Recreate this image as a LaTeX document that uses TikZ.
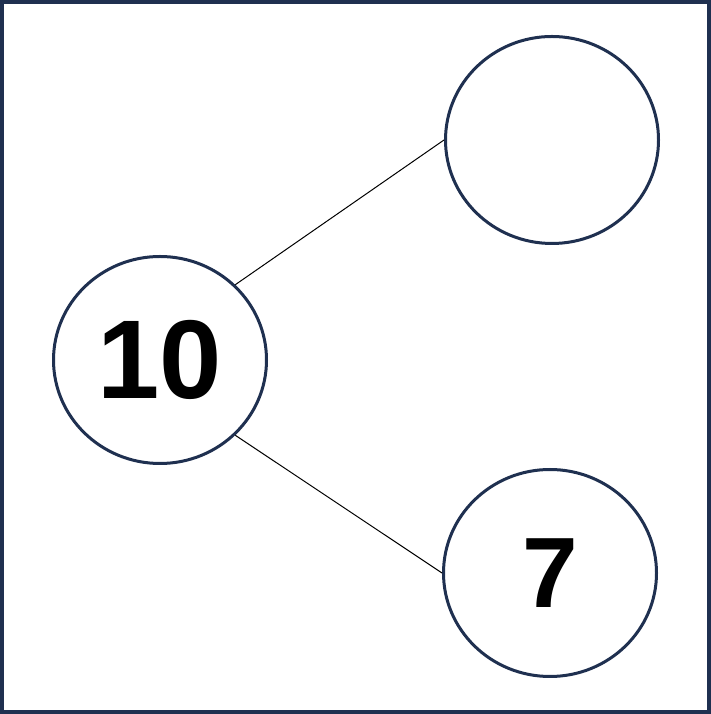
\documentclass[tikz,border=0pt]{standalone}
\usepackage{fontspec}
\setmainfont{Liberation Sans}
\usetikzlibrary{shapes.geometric}
\definecolor{navy}{HTML}{1F3050}

\begin{document}
\begin{tikzpicture}[x=1pt,y=1pt,
    frame/.style={draw=navy,line width=4pt},
    vertex/.style={ellipse,draw=navy,line width=3pt,fill=white,inner sep=0pt,
                   minimum width=213pt,minimum height=207pt},
    edge/.style={draw=black,line width=1pt}
]
\useasboundingbox (0,0) rectangle (711,714);
\draw[frame] (2,2) rectangle (709,712);

\node[vertex] (root) at (160,354) {\fontsize{112}{112}\selectfont\bfseries 10};
\node[vertex] (top) at (552,574) {};
\node[vertex] (bottom) at (550,141) {\fontsize{100}{100}\selectfont\bfseries 7};

\draw[edge] (root.45) -- (top.west);
\draw[edge] (root.-45) -- (bottom.west);
\end{tikzpicture}
\end{document}
